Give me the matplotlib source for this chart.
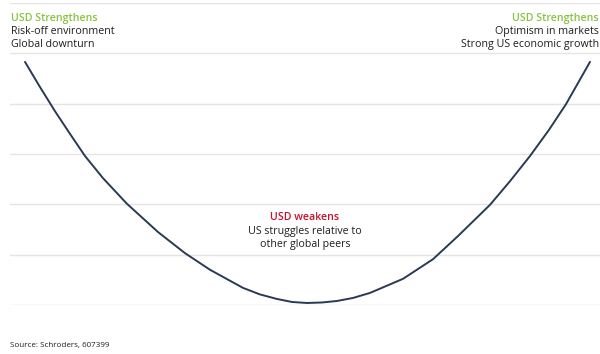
import numpy as np
import matplotlib
matplotlib.use("Agg")
import matplotlib.pyplot as plt

plt.rcParams['font.family'] = ['Open Sans', 'DejaVu Sans']

# smile curve: position along the cycle vs. USD strength
cycle_pos = [25, 40, 55, 70, 85, 103, 127, 158, 185, 210, 243, 260, 277, 292, 307,
             322, 337, 353, 370, 403, 433, 458, 490, 510, 530, 549, 566, 590]
usd_level = [4.83, 4.33, 3.85, 3.40, 2.96, 2.52, 2.01, 1.45, 1.03, 0.70, 0.34, 0.21,
             0.12, 0.06, 0.04, 0.05, 0.08, 0.14, 0.24, 0.52, 0.91, 1.37, 1.99, 2.46,
             2.96, 3.48, 3.99, 4.83]
grid_levels = [0, 1, 2, 3, 4, 5, 6]

green = "#86c440"
red = "#c8102e"
navy = "#2a3954"
txt = "#1e1e1e"

fig = plt.figure(figsize=(6.0, 3.54), dpi=100)
ax = fig.add_axes([10 / 600, 1 - 305 / 354, 590 / 600, 302 / 354])
ax.set_xlim(10, 600)
ax.set_ylim(0, 6)
ax.axis("off")

for g in grid_levels:
    ax.axhline(g, color="#e4e4e4", lw=1.0, zorder=1)

ax.plot(cycle_pos, usd_level, color=navy, lw=1.4, solid_capstyle="round",
        solid_joinstyle="round", antialiased=True, zorder=3)

fs = 7.7
# left block
lx = 11 / 600
fig.text(lx, 1 - 18.5 / 354, "USD Strengthens", color=green, fontsize=fs,
         fontweight="semibold", va="center", ha="left")
fig.text(lx, 1 - 31.5 / 354, "Risk-off environment", color=txt, fontsize=fs,
         va="center", ha="left")
fig.text(lx, 1 - 44.5 / 354, "Global downturn", color=txt, fontsize=fs,
         va="center", ha="left")

# right block, flush with the right edge
rx = 599 / 600
fig.text(rx, 1 - 18.5 / 354, "USD Strengthens", color=green, fontsize=fs,
         fontweight="semibold", va="center", ha="right")
fig.text(rx, 1 - 31.5 / 354, "Optimism in markets", color=txt, fontsize=fs,
         va="center", ha="right")
fig.text(rx, 1 - 44.5 / 354, "Strong US economic growth", color=txt, fontsize=fs,
         va="center", ha="right")

# middle block
cx = 305 / 600
fig.text(cx, 1 - 217.5 / 354, "USD weakens", color=red, fontsize=fs,
         fontweight="semibold", va="center", ha="center")
fig.text(cx, 1 - 231.5 / 354, "US struggles relative to", color=txt, fontsize=fs,
         va="center", ha="center")
fig.text(cx, 1 - 244 / 354, "other global peers", color=txt, fontsize=fs,
         va="center", ha="center")

fig.text(10 / 600, 1 - 346 / 354, "Source: Schroders, 607399", color=txt,
         fontsize=5.8, va="center", ha="left")

fig.savefig("out.png", dpi=100, facecolor="white")
